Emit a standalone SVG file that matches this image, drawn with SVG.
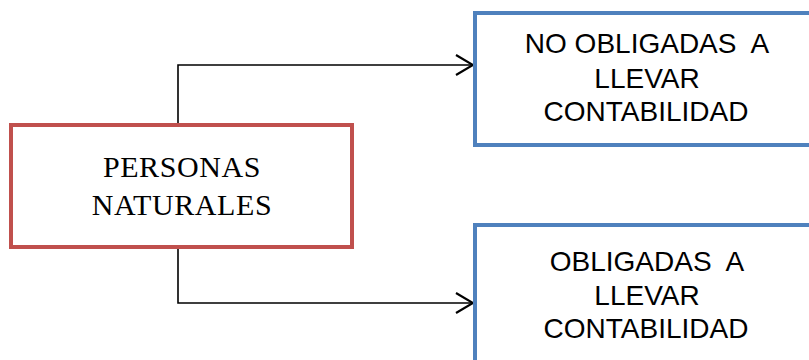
<svg xmlns="http://www.w3.org/2000/svg" width="809" height="360" viewBox="0 0 809 360">
<style>
.box{fill:#fff;stroke-width:4}
.red{stroke:#C0504D}
.blue{stroke:#4F81BD}
.conn{fill:none;stroke:#000;stroke-width:1.6}
.serif{font-family:"Liberation Serif","Times New Roman",serif;font-size:30px;letter-spacing:0.6px;fill:#000;text-anchor:middle}
.sans{font-family:"Liberation Sans",Arial,sans-serif;font-size:28px;fill:#000;text-anchor:middle}
</style>
<defs>
<marker id="arr" markerWidth="20" markerHeight="24" refX="18" refY="11" orient="auto" markerUnits="userSpaceOnUse">
<path d="M1,1 L18,11 L1,21" fill="none" stroke="#000" stroke-width="2.2"/>
</marker>
</defs>
<rect width="809" height="360" fill="#fff"/>
<g id="connectors">
<path class="conn" d="M178,125 V65 H473" marker-end="url(#arr)"/>
<path class="conn" d="M178,247 V303 H473" marker-end="url(#arr)"/>
</g>
<g id="personas">
<rect class="box red" x="11" y="125" width="341" height="122"/>
<text class="serif" x="182" y="177">PERSONAS</text>
<text class="serif" x="182" y="215">NATURALES</text>
</g>
<g id="no-obligadas">
<rect class="box blue" x="475" y="13" width="345" height="132"/>
<text class="sans" x="647" y="53" xml:space="preserve">NO OBLIGADAS  A</text>
<text class="sans" x="647" y="88">LLEVAR</text>
<text class="sans" x="646" y="121">CONTABILIDAD</text>
</g>
<g id="obligadas">
<rect class="box blue" x="475" y="225" width="345" height="150"/>
<text class="sans" x="647" y="271" xml:space="preserve">OBLIGADAS  A</text>
<text class="sans" x="647" y="305">LLEVAR</text>
<text class="sans" x="646" y="338">CONTABILIDAD</text>
</g>
</svg>
